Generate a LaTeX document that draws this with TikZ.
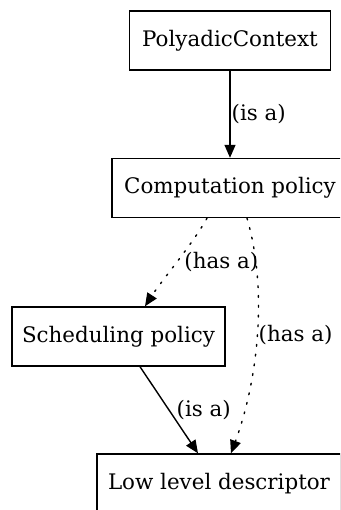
\documentclass[tikz,border=0pt]{standalone}
\usepackage{fontspec}
\setmainfont{DejaVu Serif}
\usetikzlibrary{arrows.meta}
\begin{document}
\begin{tikzpicture}[x=1pt,y=-1pt,
  box/.style={draw, line width=1.4pt, minimum height=59pt, inner sep=0pt, font=\fontsize{21.4}{25}\selectfont},
  lbl/.style={font=\fontsize{21.4}{25}\selectfont, inner sep=1pt},
  arr/.style={-{Triangle[length=13pt,width=11pt]}, line width=1.4pt},
  dotline/.style={dash pattern=on 1.8pt off 8pt, line cap=round}]
\useasboundingbox (0,0) rectangle (340,510);
\clip (0,0) rectangle (340,510);
\node[box, minimum width=201pt] (pc) at (230,40.5) {PolyadicContext};
\node[box, minimum width=236pt] (cp) at (230,188) {Computation policy};
\node[box, minimum width=213pt] (sp) at (118.5,336.5) {Scheduling policy};
\node[box, minimum width=244pt] (ll) at (219,483.5) {Low level descriptor};
\draw[arr] (pc.south) -- node[lbl, anchor=west] {(is a)} (cp.north);
\draw[arr, dotline] ([xshift=-23pt]cp.south) .. controls (192,245) and (162,280) .. node[lbl, anchor=west, pos=0.5, xshift=6pt] {(has a)} ([xshift=26.5pt]sp.north);
\draw[arr, dotline] ([xshift=17pt]cp.south) .. controls (268,290) and (258,380) .. node[lbl, anchor=west, pos=0.5] {(has a)} ([xshift=12pt]ll.north);
\draw[arr] ([xshift=21.5pt]sp.south) -- node[lbl, anchor=west, xshift=6pt] {(is a)} ([xshift=-21pt]ll.north);
\end{tikzpicture}
\end{document}
